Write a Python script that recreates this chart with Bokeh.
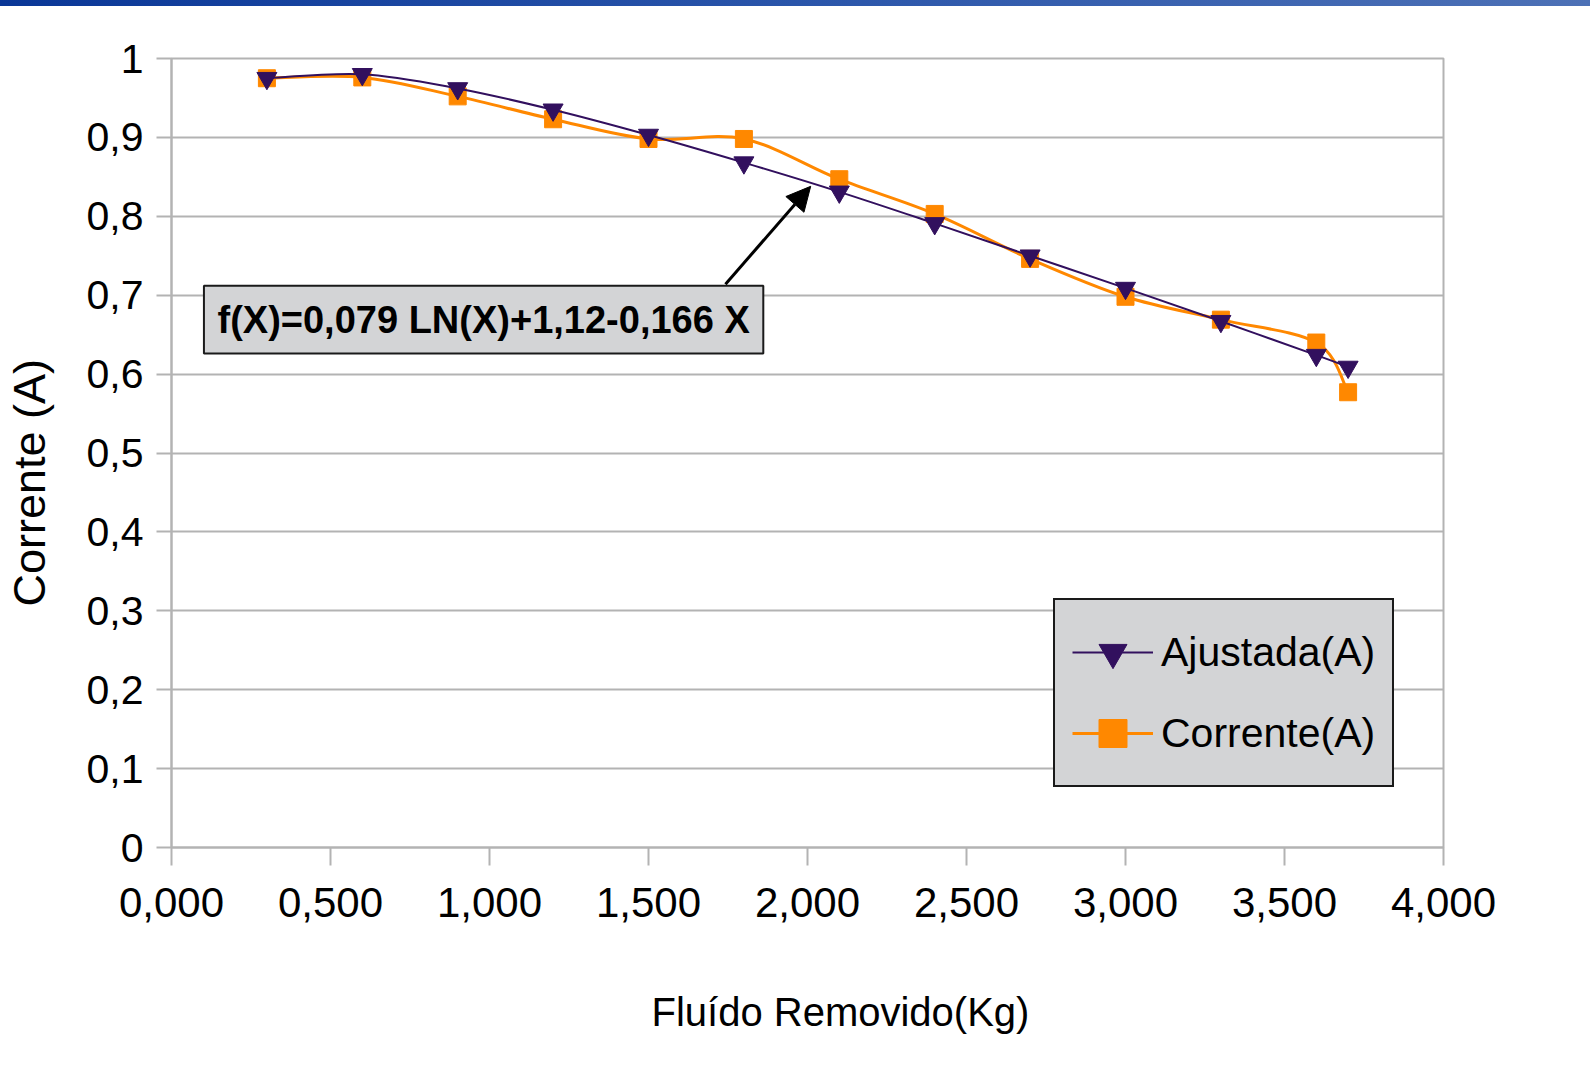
import numpy as np
from bokeh.plotting import figure
from bokeh.models import (FixedTicker, Legend, LegendItem, Label, BoxAnnotation,
                          Arrow, NormalHead, Div, Title)
from bokeh.layouts import column
from bokeh.embed import file_html
from bokeh.resources import INLINE

# ---------------- data ----------------
fluido = [0.3, 0.6, 0.9, 1.2, 1.5, 1.8, 2.1, 2.4, 2.7, 3.0, 3.3, 3.6, 3.7]
ajustada = [0.975, 0.980, 0.962, 0.935, 0.903, 0.868, 0.831, 0.791, 0.750,
            0.709, 0.667, 0.624, 0.609]
corrente = [0.975, 0.976, 0.952, 0.923, 0.898, 0.898, 0.847, 0.803, 0.746,
            0.698, 0.669, 0.640, 0.577]

series_names = ["Ajustada(A)", "Corrente(A)"]

x_ticks = [0, 0.5, 1, 1.5, 2, 2.5, 3, 3.5, 4]
x_tick_labels = ["0,000", "0,500", "1,000", "1,500", "2,000", "2,500",
                 "3,000", "3,500", "4,000"]
y_ticks = [0, 0.1, 0.2, 0.3, 0.4, 0.5, 0.6, 0.7, 0.8, 0.9, 1]
y_tick_labels = ["0", "0,1", "0,2", "0,3", "0,4", "0,5", "0,6", "0,7",
                 "0,8", "0,9", "1"]

x_title = "Fluído Removido(Kg)"
y_title = "Corrente (A)"
equation = "f(X)=0,079 LN(X)+1,12-0,166 X"

# annotation placement (data units)
eq_box = dict(left=0.102, right=1.861, bottom=0.626, top=0.712)
arrow_from = (1.742, 0.714)
arrow_to = (2.01, 0.838)

PURPLE = "#32105e"
ORANGE = "#ff8800"
GRID = "#b3b3b3"
FONT = "Liberation Sans"

W, H = 1590, 1058
BAR_H = 6


def spline(xs, ys):
    """Catmull-Rom -> cubic Bezier control points for a smooth line."""
    x = np.asarray(xs, float)
    y = np.asarray(ys, float)
    n = len(x)
    xp = np.concatenate([[x[0]], x, [x[-1]]])
    yp = np.concatenate([[y[0]], y, [y[-1]]])
    return dict(
        x0=xp[1:n], y0=yp[1:n], x1=xp[2:n + 1], y1=yp[2:n + 1],
        cx0=xp[1:n] + (xp[2:n + 1] - xp[0:n - 1]) / 6,
        cy0=yp[1:n] + (yp[2:n + 1] - yp[0:n - 1]) / 6,
        cx1=xp[2:n + 1] - (xp[3:n + 2] - xp[1:n]) / 6,
        cy1=yp[2:n + 1] - (yp[3:n + 2] - yp[1:n]) / 6,
    )


p = figure(width=W, height=H, x_range=(0, 4), y_range=(0, 1),
           output_backend="svg", toolbar_location=None,
           min_border_left=171, min_border_right=W - 1443,
           min_border_top=58 - BAR_H, min_border_bottom=BAR_H + H - 847)
p.background_fill_color = "white"
p.border_fill_color = "white"
p.outline_line_color = GRID
p.outline_line_width = 2

# orange series first (drawn beneath)
c_line = p.bezier(**spline(fluido, corrente), line_color=ORANGE, line_width=3)
c_pts = p.scatter(fluido, corrente, marker="square", size=17,
                  fill_color=ORANGE, line_color=ORANGE)
a_line = p.bezier(**spline(fluido, ajustada), line_color=PURPLE, line_width=2)
a_pts = p.scatter(fluido, ajustada, marker="inverted_triangle", size=20,
                  fill_color=PURPLE, line_color=PURPLE)

# axes
for ax, ticks, labels, tout, stand in (
        (p.xaxis, x_ticks, x_tick_labels, 18, 22),
        (p.yaxis, y_ticks, y_tick_labels, 15, 13)):
    ax.ticker = FixedTicker(ticks=ticks)
    ax.major_label_overrides = dict(zip(ticks, labels))
    ax.axis_line_color = GRID
    ax.axis_line_width = 2
    ax.major_tick_line_color = GRID
    ax.major_tick_line_width = 2
    ax.major_tick_in = 0
    ax.major_tick_out = tout
    ax.minor_tick_line_color = None
    ax.major_label_text_font = FONT
    ax.major_label_text_color = "black"
    ax.major_label_standoff = stand
    # blank axis label used only as a spacer before the titles
    ax.axis_label = " "
    ax.axis_label_text_font_size = "10px"
p.xaxis.major_label_text_font_size = "42px"
p.yaxis.major_label_text_font_size = "41px"
p.xaxis.axis_label_standoff = 54
p.yaxis.axis_label_standoff = 15

p.xgrid.grid_line_color = None
p.ygrid.ticker = FixedTicker(ticks=y_ticks)
p.ygrid.grid_line_color = GRID
p.ygrid.grid_line_width = 2

# axis titles (as titles in the side panels so they are not clipped)
p.add_layout(Title(text=x_title, align="left", offset=480, standoff=0,
                   vertical_align="bottom", text_font=FONT,
                   text_font_style="normal", text_font_size="40px",
                   text_color="black"), "below")
p.add_layout(Title(text=y_title, align="left", offset=241, standoff=0,
                   vertical_align="bottom", text_font=FONT,
                   text_font_style="normal", text_font_size="45px",
                   text_color="black"), "left")

# equation box + arrow
p.add_layout(BoxAnnotation(**eq_box, fill_color="#d3d4d6", fill_alpha=1,
                           line_color="#1a1a1a", line_width=2, line_alpha=1))
p.add_layout(Label(x=(eq_box["left"] + eq_box["right"]) / 2,
                   y=(eq_box["bottom"] + eq_box["top"]) / 2,
                   text=equation, text_align="center", text_baseline="middle",
                   text_font=FONT, text_font_style="bold",
                   text_font_size="38px", text_color="black"))
p.add_layout(Arrow(x_start=arrow_from[0], y_start=arrow_from[1],
                   x_end=arrow_to[0], y_end=arrow_to[1],
                   line_color="black", line_width=3,
                   end=NormalHead(size=24, fill_color="black",
                                  line_color="black", line_width=1)))

# legend
legend = Legend(items=[LegendItem(label=series_names[0], renderers=[a_line, a_pts]),
                       LegendItem(label=series_names[1], renderers=[c_line, c_pts])],
                location=(882, 60), orientation="vertical",
                glyph_width=81, glyph_height=70, spacing=11, padding=17,
                label_standoff=8, margin=0,
                label_text_font=FONT, label_text_font_size="41px",
                label_text_color="black",
                background_fill_color="#d3d4d6", background_fill_alpha=1,
                border_line_color="#1a1a1a", border_line_width=2,
                border_line_alpha=1)
p.add_layout(legend)

bar = Div(text="", width=W, height=BAR_H, margin=0,
          styles={"background": "linear-gradient(90deg, #0a3797 0%, #2a55aa 50%, #4d71b6 100%)"})

layout = column(bar, p, spacing=0)

open("out.html", "w").write(file_html(layout, INLINE))
